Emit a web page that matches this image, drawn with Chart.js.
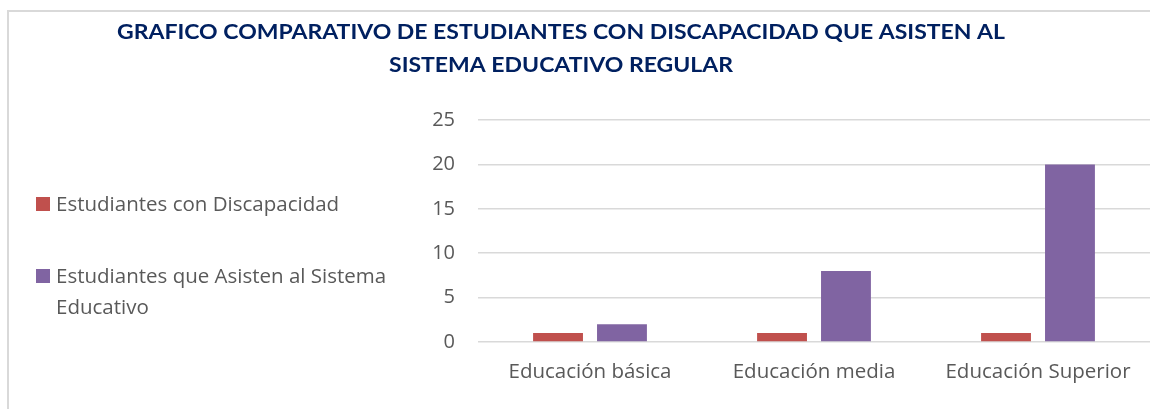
<!DOCTYPE html>
<html>
<head>
<meta charset="utf-8">
<script src="https://cdn.jsdelivr.net/npm/chart.js@4"></script>
<style>
  html, body { margin:0; padding:0; background:#fff; }
  #wrap { position:relative; width:1150px; height:409px; overflow:hidden; }
  #frame { position:absolute; left:7px; top:10px; width:1200px; height:450px; border-left:2px solid #d9d9d9; border-top:2px solid #d9d9d9; }
  canvas { position:absolute; left:0; top:0; }
  .leg { position:absolute; font-family: "Open Sans", sans-serif; font-size:20.5px; color:#595959; line-height:31px; white-space:nowrap; }
  .sw { position:absolute; width:14px; height:14px; }
</style>
</head>
<body>
<div id="wrap">
  <div id="frame"></div>
  <canvas id="c" width="1150" height="409"></canvas>
  <div id="legend"></div>
</div>
<script>
const titleLines = ["GRAFICO COMPARATIVO DE ESTUDIANTES CON DISCAPACIDAD QUE ASISTEN AL", "SISTEMA EDUCATIVO REGULAR"];
const categories = ["Educación básica", "Educación media", "Educación Superior"];
const seriesNames = ["Estudiantes con Discapacidad", "Estudiantes que Asisten al Sistema Educativo"];
const discapacidad = [1, 1, 1];
const asisten = [2, 8, 20];
const yTicks = [0, 5, 10, 15, 20, 25];
const colors = ["#C0504D", "#8064A2"];

// HTML legend (real text)
const legend = document.getElementById('legend');
const legPos = [{top:188, lines:[seriesNames[0]]}, {top:260, lines:["Estudiantes que Asisten al Sistema", "Educativo"]}];
legPos.forEach((p, i) => {
  const sw = document.createElement('div');
  sw.className = 'sw';
  sw.style.left = '36px'; sw.style.top = (p.top + 9) + 'px';
  sw.style.background = colors[i];
  legend.appendChild(sw);
  const t = document.createElement('div');
  t.className = 'leg';
  t.style.left = '56px'; t.style.top = p.top + 'px';
  t.innerHTML = p.lines.join('<br>');
  legend.appendChild(t);
});

const titlePlugin = {
  id: 'titleDraw',
  afterDraw(chart) {
    const ctx = chart.ctx;
    ctx.save();
    ctx.fillStyle = '#002060';
    ctx.textAlign = 'center';
    ctx.textBaseline = 'middle';
    ctx.font = 'bold 21px Lato, "Open Sans", sans-serif';
    const targetW = 888;
    const w = ctx.measureText(titleLines[0]).width;
    const sx = targetW / w;
    ctx.translate(561, 0);
    ctx.scale(sx, 1);
    ctx.fillText(titleLines[0], 0, 32);
    ctx.fillText(titleLines[1], 0, 65);
    ctx.restore();
  }
};

new Chart(document.getElementById('c'), {
  type: 'bar',
  data: {
    labels: categories,
    datasets: [
      { label: seriesNames[0], data: discapacidad, backgroundColor: colors[0], categoryPercentage: 0.571, barPercentage: 0.78 },
      { label: seriesNames[1], data: asisten, backgroundColor: colors[1], categoryPercentage: 0.571, barPercentage: 0.78 }
    ]
  },
  options: {
    responsive: false,
    animation: false,
    devicePixelRatio: 1,
    layout: { padding: { left: 0, right: 0, top: 120, bottom: 0 } },
    plugins: { legend: { display: false }, tooltip: { enabled: false }, title: { display: false } },
    scales: {
      x: {
        grid: { display: false, drawTicks: false },
        border: { display: false },
        ticks: { color: '#595959', font: { family: '"Open Sans", sans-serif', size: 20.5 }, padding: 18, maxRotation: 0 },
        afterFit(s) { s.height = 409 - 342; }
      },
      y: {
        min: 0, max: 25,
        afterBuildTicks(s) { s.ticks = yTicks.map(v => ({ value: v })); },
        grid: { color: '#d9d9d9', lineWidth: 1.5, drawTicks: false },
        border: { display: false },
        ticks: { color: '#595959', font: { family: '"Open Sans", sans-serif', size: 20 }, padding: 23 },
        afterFit(s) { s.width = 478; }
      }
    }
  },
  plugins: [titlePlugin]
});
</script>
</body>
</html>
